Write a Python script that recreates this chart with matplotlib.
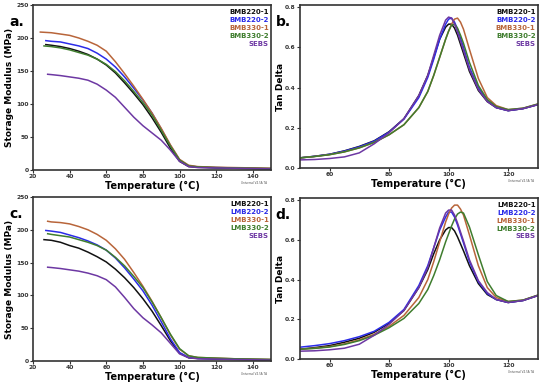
import numpy as np
import matplotlib.pyplot as plt
import matplotlib as mpl

mpl.rcParams.update({"font.family": "DejaVu Sans", "font.weight": "bold"})

colors = ["#111111", "#2b2be8", "#b8653a", "#3f7d2e", "#6d38a3"]
names_b = ["BMB220-1", "BMB220-2", "BMB330-1", "BMB330-2", "SEBS"]
names_l = ["LMB220-1", "LMB220-2", "LMB330-1", "LMB330-2", "SEBS"]

# storage modulus (MPa) vs temperature
sm_T = [27, 30, 35, 40, 45, 50, 55, 60, 65, 70, 75, 80, 85, 90, 95, 100, 105, 110, 120,
        130, 140, 150]
# panel a (BMB)
sm_T_start = [27, 27, 24, 26, 28]
sm_a = [
    [190, 189, 187, 184, 180, 175, 168, 159, 147, 132, 116, 99, 79, 57, 33, 13, 5, 4, 3, 2.5, 2, 1.5],
    [196, 195, 194, 191, 188, 184, 177, 168, 156, 141, 124, 106, 86, 62, 37, 15, 6, 4.5, 3.5, 3, 2.5, 2],
    [209, 208, 206, 204, 200, 195, 189, 180, 164, 146, 127, 107, 86, 63, 38, 16, 7, 5, 4, 3.5, 3, 2.5],
    [188, 187, 185, 182, 178, 174, 168, 160, 149, 135, 119, 102, 83, 60, 36, 15, 6, 4.5, 3.5, 3, 2.5, 2],
    [145, 144.5, 143, 141, 139, 136, 130, 121, 110, 95, 80, 67, 56, 45, 30, 13, 5, 3.5, 3, 2.5, 2, 1.5],
]
# panel c (LMB)
sm_T_start_c = [26, 27, 28, 28, 28]
sm_c = [
    [185, 184, 181, 176, 172, 166, 159, 151, 140, 127, 112, 95, 76, 54, 31, 12, 5, 4, 3, 2.5, 2, 1.5],
    [199, 198, 196, 192, 188, 183, 177, 169, 157, 142, 125, 107, 85, 60, 34, 13, 5.5, 4, 3.5, 3, 2.5, 2],
    [213, 212, 211, 209, 205, 200, 193, 184, 171, 155, 135, 114, 91, 66, 40, 18, 8, 5.5, 4.5, 3.5, 3, 2.5],
    [194, 193, 191, 189, 185, 181, 176, 169, 158, 145, 129, 112, 90, 66, 41, 19, 8, 5.5, 4.5, 3.5, 3, 2.5],
    [143, 142.5, 141, 139, 137, 134, 130, 124, 113, 97, 80, 66, 55, 43, 27, 11, 5, 3.5, 3, 2.5, 2, 1.5],
]

# tan delta vs temperature
td_T = [50, 55, 60, 65, 70, 75, 80, 85, 90, 93, 95, 97, 99, 100, 101, 102, 103, 104, 105,
        107, 110, 113, 116, 120, 125, 130]
td_b = [
    [.050, .058, .068, .085, .107, .135, .18, .245, .36, .46, .55, .64, .70, .715, .715, .695,
     .66, .615, .57, .48, .385, .33, .30, .285, .295, .315],
    [.050, .058, .068, .084, .105, .133, .178, .243, .35, .45, .54, .64, .715, .74, .745, .725,
     .69, .645, .60, .50, .40, .335, .30, .285, .295, .315],
    [.050, .057, .066, .080, .100, .127, .165, .215, .30, .38, .46, .55, .64, .68, .715, .74,
     .745, .725, .69, .59, .445, .35, .31, .29, .297, .318],
    [.050, .057, .066, .080, .100, .127, .165, .215, .30, .38, .46, .55, .64, .68, .71, .715,
     .695, .66, .62, .525, .41, .34, .305, .29, .297, .318],
    [.040, .042, .047, .055, .075, .12, .175, .245, .36, .46, .56, .66, .735, .75, .745, .715,
     .675, .63, .585, .49, .39, .33, .30, .285, .295, .315],
]
td_d = [
    [.050, .058, .068, .085, .105, .135, .18, .245, .36, .45, .53, .60, .65, .662, .662, .645,
     .615, .58, .545, .47, .38, .325, .30, .285, .295, .32],
    [.060, .068, .078, .093, .113, .14, .185, .25, .37, .47, .56, .65, .715, .74, .74, .715,
     .675, .63, .585, .49, .39, .33, .30, .285, .295, .32],
    [.050, .055, .063, .077, .097, .125, .165, .22, .31, .40, .49, .59, .69, .73, .76, .775,
     .775, .755, .725, .625, .47, .36, .31, .29, .297, .322],
    [.050, .054, .061, .074, .093, .12, .158, .205, .28, .35, .42, .50, .59, .63, .67, .705,
     .73, .74, .735, .665, .525, .39, .32, .29, .297, .322],
    [.040, .042, .047, .055, .075, .12, .175, .245, .36, .46, .56, .66, .735, .75, .75, .725,
     .685, .64, .595, .50, .395, .335, .30, .285, .295, .32],
]

fig = plt.figure(figsize=(5.5, 3.87), dpi=100)
ax_a = fig.add_axes([0.060, 0.561, 0.433, 0.426])
ax_b = fig.add_axes([0.545, 0.566, 0.433, 0.421])
ax_c = fig.add_axes([0.060, 0.067, 0.433, 0.424])
ax_d = fig.add_axes([0.545, 0.072, 0.433, 0.416])


def style(ax, letter, names, ylabel):
    for s in ax.spines.values():
        s.set_linewidth(1.2)
        s.set_color("#333333")
    ax.tick_params(labelsize=4.3, length=2, width=0.8, colors="#333333", pad=1)
    ax.set_xlabel("Temperature (°C)", fontsize=7, fontweight="bold", labelpad=1)
    ax.set_ylabel(ylabel, fontsize=6.5, fontweight="bold", labelpad=2)
    ax.text(-0.07, 0.87, letter, transform=ax.transAxes, fontsize=10,
            fontweight="bold", ha="center")
    for i, (n, c) in enumerate(zip(names, colors)):
        ax.text(0.99, 0.955 - i * 0.048, n, transform=ax.transAxes, fontsize=5,
                fontweight="bold", color=c, ha="right", va="center")
    ax.text(0.93, -0.085, "Universal V4.5A TA", transform=ax.transAxes, fontsize=2,
            color="#555555", ha="center", fontweight="normal")


for ax, data, starts, letter, names in [(ax_a, sm_a, sm_T_start, "a.", names_b),
                                        (ax_c, sm_c, sm_T_start_c, "c.", names_l)]:
    for vals, c, t0 in zip(data, colors, starts):
        T = [t0] + sm_T[1:]
        ax.plot(T, vals, color=c, lw=1.1)
    ax.set_xlim(20, 150)
    ax.set_ylim(0, 250)
    ax.set_xticks(range(20, 150, 20))
    ax.set_yticks(range(0, 251, 50))
    style(ax, letter, names, "Storage Modulus (MPa)")

for ax, data, letter, names in [(ax_b, td_b, "b.", names_b), (ax_d, td_d, "d.", names_l)]:
    for vals, c in zip(data, colors):
        ax.plot(td_T, vals, color=c, lw=1.1)
    ax.set_xlim(50, 130)
    ax.set_ylim(0, 0.81)
    ax.set_xticks([60, 80, 100, 120])
    ax.set_yticks([0.0, 0.2, 0.4, 0.6, 0.8])
    ax.set_yticklabels(["0.0", "0.2", "0.4", "0.6", "0.8"])
    style(ax, letter, names, "Tan Delta")
    ax.yaxis.set_label_coords(-0.06, 0.5)

fig.savefig("out.png", dpi=100)
